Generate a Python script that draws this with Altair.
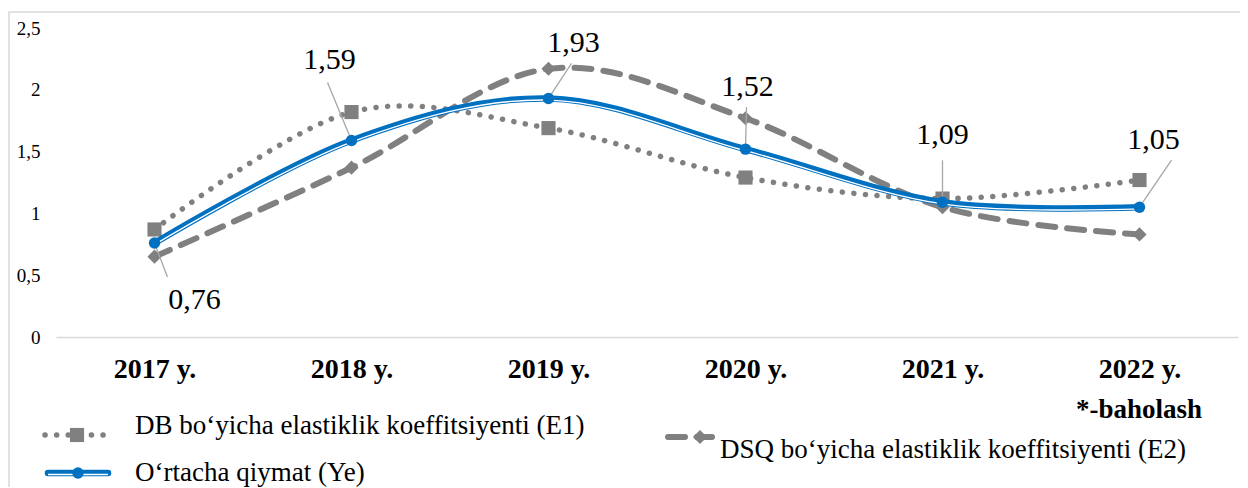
import altair as alt
import pandas as pd

# ---- data ----
years = [2017, 2018, 2019, 2020, 2021, 2022]
e1 = [0.87, 1.82, 1.69, 1.29, 1.12, 1.27]   # DB bo'yicha (squares, dotted)
e2 = [0.65, 1.37, 2.17, 1.77, 1.05, 0.83]   # DSQ bo'yicha (diamonds, dashed)
ye = [0.76, 1.59, 1.93, 1.52, 1.09, 1.05]   # O'rtacha qiymat (blue)
y_ticks = [0, 0.5, 1, 1.5, 2, 2.5]
name_e1 = "DB bo‘yicha elastiklik koeffitsiyenti (E1)"
name_e2 = "DSQ bo‘yicha elastiklik koeffitsiyenti (E2)"
name_ye = "O‘rtacha qiymat (Ye)"
note = "*-baholash"

# ---- label layout (pixel offsets from each blue point) ----
lab_dx = [40, -22, 25, 2, 0, 14]
lab_dy = [57, -80, -55, -62, -67, -67]
lead_dx = [13, -24, 23, 1, 0, 32]
lead_dy = [34, -58, -35, -42, -42, -47]

W, H = 1182, 309
PX_X = W / 6.0
PX_Y = H / 2.5

FONT = "Liberation Serif, Times New Roman, serif"
GREY = "#808080"
BLUE = "#0070C0"
LEG_FS = 27

df = pd.DataFrame({"year": years, "e1": e1, "e2": e2, "ye": ye})
df["tx"] = [y + d / PX_X for y, d in zip(years, lab_dx)]
df["ty"] = [v - d / PX_Y for v, d in zip(ye, lab_dy)]
df["lx"] = [y + d / PX_X for y, d in zip(years, lead_dx)]
df["ly"] = [v - d / PX_Y for v, d in zip(ye, lead_dy)]
df["lab"] = [f"{v:.2f}".replace(".", ",") for v in ye]

xscale = alt.Scale(domain=[2016.5, 2022.5], nice=False, zero=False)
yscale = alt.Scale(domain=[0, 2.5], nice=False, zero=True)
xaxis = alt.Axis(values=years, labelExpr="datum.value + ' y.'", domain=True,
                 domainColor="#d9d9d9", domainWidth=1.5, ticks=False, grid=False,
                 labelFont=FONT, labelFontWeight="bold", labelFontSize=28,
                 labelColor="black", labelPadding=18, title=None)
yaxis = alt.Axis(values=y_ticks, labelExpr="replace(toString(datum.value), '.', ',')",
                 domain=False, ticks=False, grid=False, labelFont=FONT,
                 labelFontSize=19, labelColor="black", labelPadding=16, title=None)

def X(f):
    return alt.X(f, type="quantitative", scale=xscale, axis=xaxis)

def Y(f):
    return alt.Y(f, type="quantitative", scale=yscale, axis=yaxis)

base = alt.Chart(df)

DOT = dict(color=GREY, strokeWidth=5.5, strokeDash=[0.1, 11.5], strokeCap="round")
DASH = dict(color=GREY, strokeWidth=6, strokeDash=[17, 12], strokeCap="round")

l_e1 = base.mark_line(interpolate="cardinal", **DOT).encode(x=X("year"), y=Y("e1"))
p_e1 = base.mark_point(shape="square", filled=True, color=GREY, opacity=1,
                       size=200).encode(x=X("year"), y=Y("e1"))
l_e2 = base.mark_line(interpolate="cardinal", **DASH).encode(x=X("year"), y=Y("e2"))
p_e2 = base.mark_point(shape="diamond", filled=True, color=GREY, opacity=1,
                       size=200).encode(x=X("year"), y=Y("e2"))
lead = base.mark_rule(color="#a6a6a6", strokeWidth=1.3).encode(
    x=X("year"), y=Y("ye"), x2="lx", y2="ly")
l_ye = base.mark_line(color=BLUE, strokeWidth=6.5, interpolate="cardinal").encode(
    x=X("year"), y=Y("ye"))
l_ye2 = base.mark_line(color="white", strokeWidth=1.3, yOffset=1.6,
                       interpolate="cardinal").encode(x=X("year"), y=Y("ye"))
p_ye = base.mark_point(shape="circle", filled=True, color=BLUE, opacity=1,
                       size=130).encode(x=X("year"), y=Y("ye"))
t_ye = base.mark_text(font=FONT, fontSize=30, color="black").encode(
    x=X("tx"), y=Y("ty"), text="lab:N")

# ---- decoration: border and custom legend (pixel positions relative to plot) ----
one = alt.Chart(pd.DataFrame({"k": [0]}))
border = one.mark_rect(fillOpacity=0, stroke="#d9d9d9", strokeWidth=1.5).encode(
    x=alt.value(-47), x2=alt.value(1250), y=alt.value(-16), y2=alt.value(500))

leg_e1_line = one.mark_rule(**DOT).encode(
    x=alt.value(-11), x2=alt.value(56), y=alt.value(407))
leg_e1_pt = one.mark_point(shape="square", filled=True, color=GREY, opacity=1,
                           size=200).encode(x=alt.value(21), y=alt.value(407))
leg_e1_tx = one.mark_text(font=FONT, fontSize=LEG_FS, align="left", color="black",
                          text=name_e1).encode(x=alt.value(79), y=alt.value(398))

leg_ye_line = one.mark_rule(color=BLUE, strokeWidth=6.5, strokeCap="round").encode(
    x=alt.value(-8), x2=alt.value(52), y=alt.value(445))
leg_ye_line2 = one.mark_rule(color="white", strokeWidth=1.3).encode(
    x=alt.value(-8), x2=alt.value(52), y=alt.value(446.5))
leg_ye_pt = one.mark_point(shape="circle", filled=True, color=BLUE, opacity=1,
                           size=130).encode(x=alt.value(22), y=alt.value(445))
leg_ye_tx = one.mark_text(font=FONT, fontSize=LEG_FS, align="left", color="black",
                          text=name_ye).encode(x=alt.value(79), y=alt.value(445))

leg_e2_line = one.mark_rule(**DASH).encode(
    x=alt.value(612), x2=alt.value(656), y=alt.value(409))
leg_e2_pt = one.mark_point(shape="diamond", filled=True, color=GREY, opacity=1,
                           size=200).encode(x=alt.value(644), y=alt.value(409))
leg_e2_tx = one.mark_text(font=FONT, fontSize=LEG_FS, align="left", color="black",
                          text=name_e2).encode(x=alt.value(664), y=alt.value(422))

note_tx = one.mark_text(font=FONT, fontSize=LEG_FS, fontWeight="bold", align="right",
                        color="black", text=note).encode(x=alt.value(1146), y=alt.value(382))

chart = alt.layer(
    border, l_e1, p_e1, l_e2, p_e2, lead, l_ye, l_ye2, p_ye, t_ye,
    leg_e1_line, leg_e1_pt, leg_e1_tx, leg_ye_line, leg_ye_line2, leg_ye_pt,
    leg_ye_tx, leg_e2_line, leg_e2_pt, leg_e2_tx, note_tx,
).properties(
    width=W, height=H,
    autosize=alt.AutoSizeParams(type="none"),
    padding={"left": 48, "top": 20, "right": 2, "bottom": 150},
).configure_view(strokeWidth=0)

chart.save("out.html", embed_options={"renderer": "svg", "actions": False})
